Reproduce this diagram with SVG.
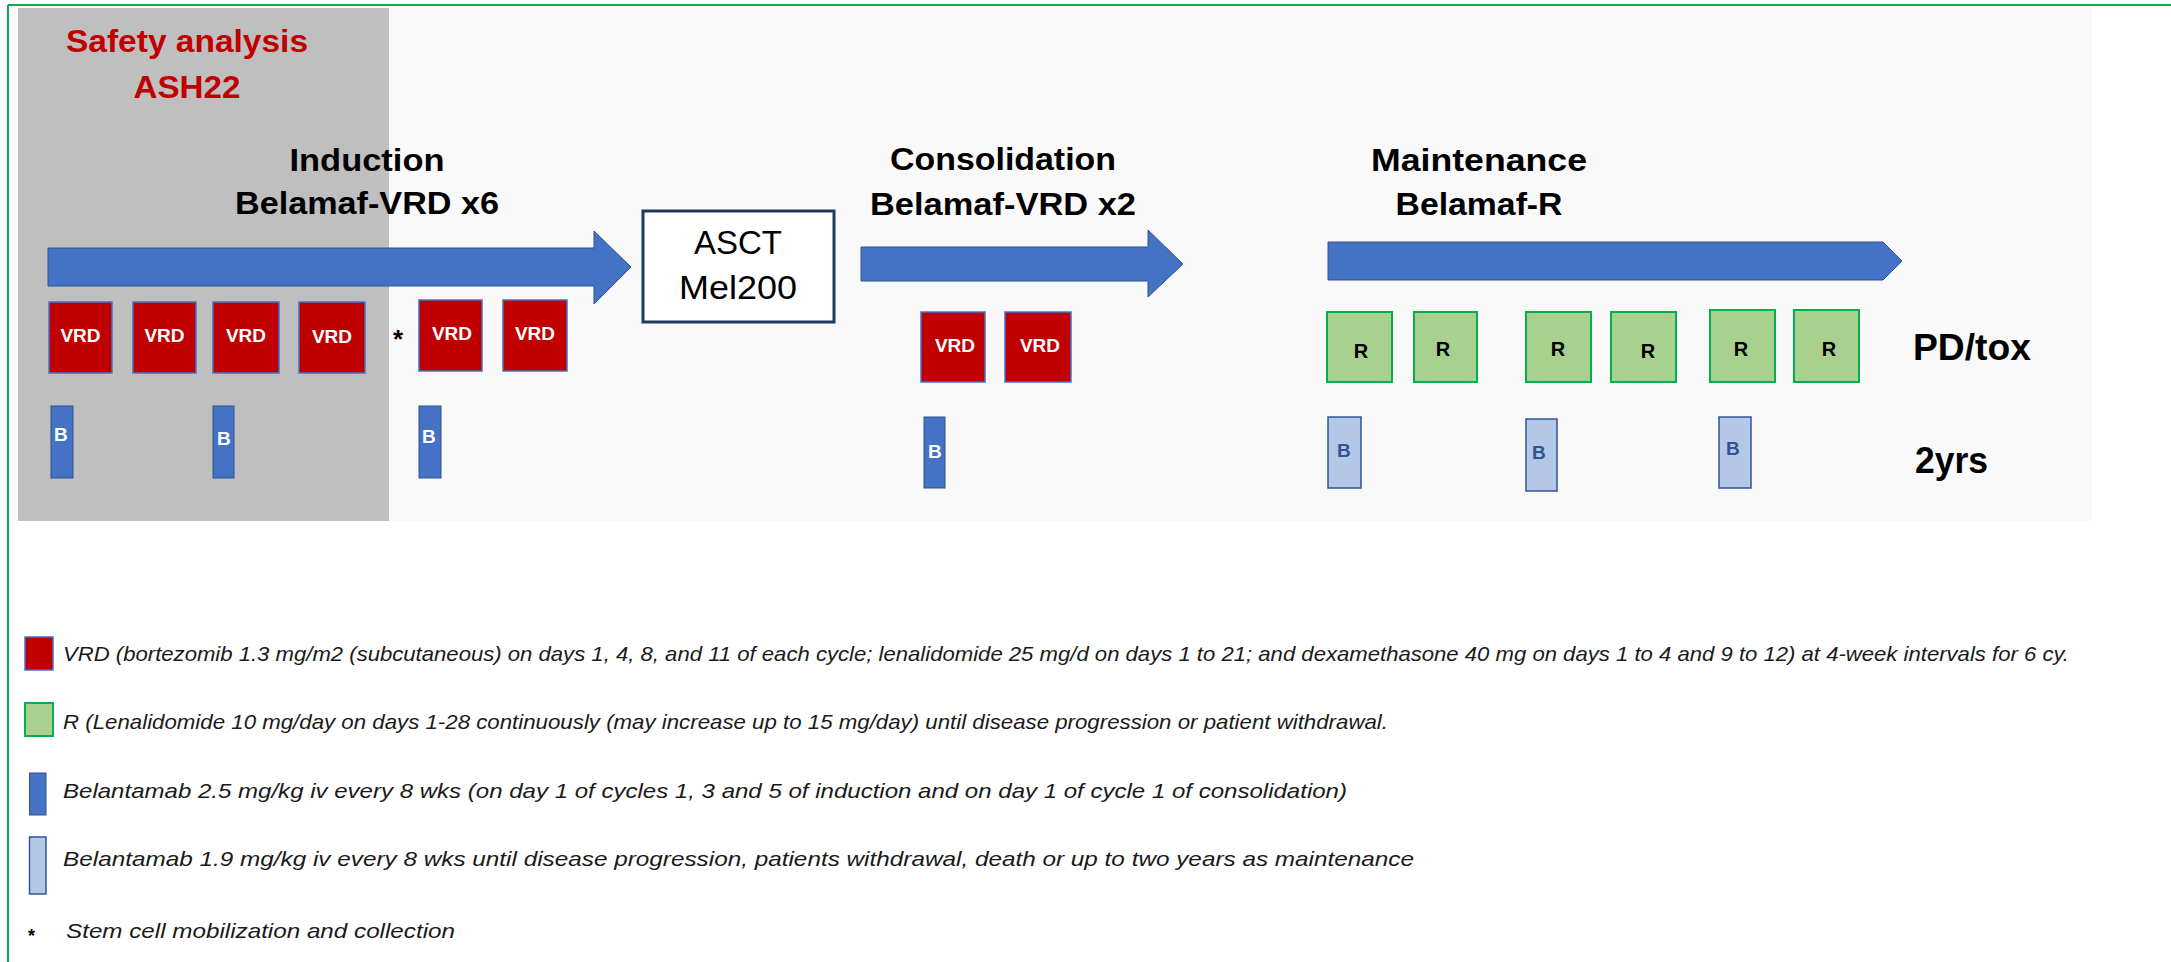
<svg xmlns="http://www.w3.org/2000/svg" width="2171" height="962" viewBox="0 0 2171 962">
<style>
.title{font-family:"Liberation Sans",Arial,sans-serif;font-weight:bold;font-size:32px;fill:#000;text-anchor:middle}
.vrd{fill:#C00000;stroke:#4472C4;stroke-width:1.5}
.vrdt{font-family:"Liberation Sans",Arial,sans-serif;font-weight:bold;font-size:19px;fill:#fff;text-anchor:middle}
.bd{fill:#4472C4;stroke:#2F528F;stroke-width:1}
.bdt{font-family:"Liberation Sans",Arial,sans-serif;font-weight:bold;font-size:19px;fill:#fff}
.bl{fill:#B4C7E7;stroke:#2F5597;stroke-width:1.5}
.blt{font-family:"Liberation Sans",Arial,sans-serif;font-weight:bold;font-size:19px;fill:#2F5597}
.r{fill:#A9D18E;stroke:#00B050;stroke-width:2}
.rt{font-family:"Liberation Sans",Arial,sans-serif;font-weight:bold;font-size:20px;fill:#000;text-anchor:middle}
.arrow{fill:#4472C4;stroke:#2F528F;stroke-width:1}
.side{font-family:"Liberation Sans",Arial,sans-serif;font-weight:bold;font-size:37px;fill:#000}
.leg{font-family:"Liberation Sans",Arial,sans-serif;font-style:italic;font-size:21px;fill:#1a1a1a}
.asct{font-family:"Liberation Sans",Arial,sans-serif;font-size:33px;fill:#000;text-anchor:middle}
</style>
<rect x="0" y="0" width="2171" height="962" fill="#ffffff"/>
<g id="frame">
<line x1="8" y1="5" x2="2171" y2="5" stroke="#00B050" stroke-width="2"/>
<line x1="8" y1="5" x2="8" y2="962" stroke="#00B050" stroke-width="2"/>
</g>
<g id="panels">
<rect x="14" y="8" width="2078" height="513" fill="#F9F9F9"/>
<rect x="18" y="8" width="371" height="513" fill="#BFBFBF"/>
</g>
<g id="safety">
<text class="title" x="187" y="52" style="fill:#C00000" textLength="242" lengthAdjust="spacingAndGlyphs">Safety analysis</text>
<text class="title" x="187" y="98" style="fill:#C00000" textLength="107" lengthAdjust="spacingAndGlyphs">ASH22</text>
</g>
<g id="connectors">
<polygon class="arrow" points="48,248 594,248 594,231 631,267 594,304 594,286 48,286"/>
<polygon class="arrow" points="861,247 1148,247 1148,230 1183,264 1148,297 1148,281 861,281"/>
<polygon class="arrow" points="1328,242 1883,242 1902,261 1883,280 1328,280"/>
</g>
<g id="induction">
<text class="title" x="367" y="171" textLength="155" lengthAdjust="spacingAndGlyphs">Induction</text>
<text class="title" x="367" y="214" textLength="264" lengthAdjust="spacingAndGlyphs">Belamaf-VRD x6</text>
<rect class="vrd" x="49" y="302" width="63" height="71"/><text class="vrdt" x="80.5" y="342">VRD</text>
<rect class="vrd" x="133" y="302" width="63" height="71"/><text class="vrdt" x="164.5" y="342">VRD</text>
<rect class="vrd" x="213" y="302" width="66" height="71"/><text class="vrdt" x="246" y="342">VRD</text>
<rect class="vrd" x="299" y="302" width="66" height="71"/><text class="vrdt" x="332" y="343">VRD</text>
<text x="398" y="348" font-family="Liberation Sans, Arial, sans-serif" font-weight="bold" font-size="26" text-anchor="middle" fill="#000">*</text>
<rect class="vrd" x="419" y="300" width="63" height="71"/><text class="vrdt" x="452" y="340">VRD</text>
<rect class="vrd" x="503" y="300" width="64" height="71"/><text class="vrdt" x="535" y="340">VRD</text>
<rect class="bd" x="51" y="406" width="22" height="72"/><text class="bdt" x="54" y="441">B</text>
<rect class="bd" x="213" y="406" width="21" height="72"/><text class="bdt" x="217" y="445">B</text>
<rect class="bd" x="419" y="406" width="22" height="72"/><text class="bdt" x="422" y="443">B</text>
</g>
<g id="asct">
<rect x="643" y="211" width="191" height="111" fill="#ffffff" stroke="#1F3864" stroke-width="3"/>
<text class="asct" x="738" y="254">ASCT</text>
<text class="asct" x="738" y="299" textLength="118" lengthAdjust="spacingAndGlyphs">Mel200</text>
</g>
<g id="consolidation">
<text class="title" x="1003" y="170" textLength="226" lengthAdjust="spacingAndGlyphs">Consolidation</text>
<text class="title" x="1003" y="215" textLength="266" lengthAdjust="spacingAndGlyphs">Belamaf-VRD x2</text>
<rect class="vrd" x="921" y="312" width="64" height="70"/><text class="vrdt" x="955" y="352">VRD</text>
<rect class="vrd" x="1005" y="312" width="66" height="70"/><text class="vrdt" x="1040" y="352">VRD</text>
<rect class="bd" x="924" y="417" width="21" height="71"/><text class="bdt" x="928" y="458">B</text>
</g>
<g id="maintenance">
<text class="title" x="1479" y="171" textLength="216" lengthAdjust="spacingAndGlyphs">Maintenance</text>
<text class="title" x="1479" y="215" textLength="167" lengthAdjust="spacingAndGlyphs">Belamaf-R</text>
<rect class="r" x="1327" y="312" width="65" height="70"/><text class="rt" x="1361" y="358">R</text>
<rect class="r" x="1414" y="312" width="63" height="70"/><text class="rt" x="1443" y="356">R</text>
<rect class="r" x="1526" y="312" width="65" height="70"/><text class="rt" x="1558" y="356">R</text>
<rect class="r" x="1611" y="312" width="65" height="70"/><text class="rt" x="1648" y="358">R</text>
<rect class="r" x="1710" y="310" width="65" height="72"/><text class="rt" x="1741" y="356">R</text>
<rect class="r" x="1794" y="310" width="65" height="72"/><text class="rt" x="1829" y="356">R</text>
<rect class="bl" x="1328" y="417" width="33" height="71"/><text class="blt" x="1337" y="457">B</text>
<rect class="bl" x="1526" y="419" width="31" height="72"/><text class="blt" x="1532" y="459">B</text>
<rect class="bl" x="1719" y="417" width="32" height="71"/><text class="blt" x="1726" y="455">B</text>
<text class="side" x="1913" y="360" textLength="118" lengthAdjust="spacingAndGlyphs">PD/tox</text>
<text class="side" x="1915" y="473" textLength="73" lengthAdjust="spacingAndGlyphs">2yrs</text>
</g>
<g id="legend">
<rect x="25" y="637" width="28" height="33" fill="#C00000" stroke="#4472C4" stroke-width="1.5"/>
<text class="leg" x="63" y="661" textLength="2006" lengthAdjust="spacingAndGlyphs">VRD (bortezomib 1.3 mg/m2 (subcutaneous) on days 1, 4, 8, and 11 of each cycle; lenalidomide 25 mg/d on days 1 to 21; and dexamethasone 40 mg on days 1 to 4 and 9 to 12) at 4-week intervals for 6 cy.</text>
<rect x="25" y="703" width="28" height="33" fill="#A9D18E" stroke="#00B050" stroke-width="2"/>
<text class="leg" x="63" y="729" textLength="1325" lengthAdjust="spacingAndGlyphs">R (Lenalidomide 10 mg/day on days 1-28 continuously (may increase up to 15 mg/day) until disease progression or patient withdrawal.</text>
<rect x="29.5" y="773" width="16.5" height="42" fill="#4472C4" stroke="#2F528F" stroke-width="1"/>
<text class="leg" x="63" y="798" textLength="1284" lengthAdjust="spacingAndGlyphs">Belantamab 2.5 mg/kg iv every 8 wks (on day 1 of cycles 1, 3 and 5 of induction and on day 1 of cycle 1 of consolidation)</text>
<rect x="29.5" y="837" width="16.5" height="57" fill="#B4C7E7" stroke="#2F5597" stroke-width="1.5"/>
<text class="leg" x="63" y="866" textLength="1351" lengthAdjust="spacingAndGlyphs">Belantamab 1.9 mg/kg iv every 8 wks until disease progression, patients withdrawal, death or up to two years as maintenance</text>
<text x="31.5" y="942" font-family="Liberation Sans, Arial, sans-serif" font-weight="bold" font-size="18" text-anchor="middle" fill="#000">*</text>
<text class="leg" x="66" y="938" textLength="389" lengthAdjust="spacingAndGlyphs">Stem cell mobilization and collection</text>
</g>
</svg>
